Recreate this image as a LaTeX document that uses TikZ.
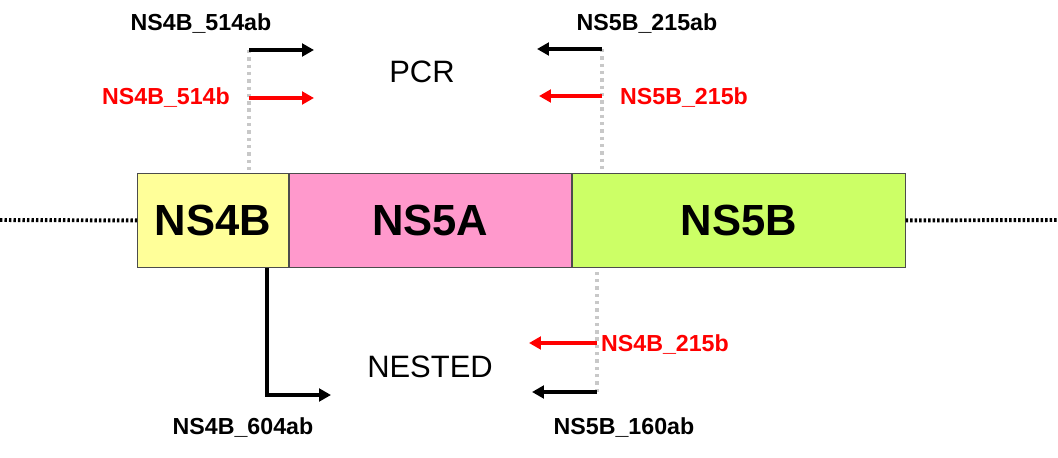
\documentclass[tikz,border=0pt]{standalone}
\usepackage{fontspec}
\setmainfont{Liberation Sans}
\usepackage{xcolor}
\definecolor{regionYellow}{HTML}{FFFF99}
\definecolor{regionPink}{HTML}{FF99CC}
\definecolor{regionGreen}{HTML}{CCFF66}
\definecolor{primerRed}{HTML}{FF0000}
\definecolor{guideGray}{HTML}{C8C8C8}
\usetikzlibrary{arrows.meta, positioning, calc}
\tikzset{
    % Genome regions in the bar
    region/.style={
        rectangle,
        draw=black!70,
        line width=0.6pt,
        minimum height=2.35cm,
        inner sep=0pt,
        font=\bfseries\fontsize{31}{31}\selectfont,
    },
    % Primer names
    primer label/.style={
        font=\bfseries\fontsize{16.5}{16.5}\selectfont,
        inner sep=1pt,
    },
    % Step titles
    step title/.style={
        font=\fontsize{22}{22}\selectfont,
        inner sep=1pt,
    },
    % Primer arrows
    primer/.style={
        -{Triangle[length=8.5pt, width=9pt]},
        line width=2.6pt,
    },
    % Light dotted guide lines
    guide/.style={
        draw=guideGray,
        line width=2.6pt,
        dash pattern=on 2.4pt off 2.8pt,
    },
    % Dotted genome continuation
    genome/.style={
        line width=2.8pt,
        dash pattern=on 1.7pt off 1.5pt,
    },
}

\begin{document}
\begin{tikzpicture}[x=0.025cm, y=-0.025cm]
    \useasboundingbox (0,0) rectangle (1058,458);

    % genome bar
    \node (ns4b) [region, fill=regionYellow, minimum width=3.775cm, anchor=north west] at (137,173) {NS4B};
    \node (ns5a) [region, fill=regionPink, minimum width=7.05cm, right=0pt of ns4b] {NS5A};
    \node (ns5b) [region, fill=regionGreen, minimum width=8.325cm, right=0pt of ns5a] {NS5B};

    \coordinate (genomeL) at (0,220);
    \coordinate (genomeR) at (1058,220);
    \draw [genome] (genomeL) -- (ns4b.west);
    \draw [genome] (ns5b.east) -- (genomeR);

    % PCR primers
    \coordinate (f514ab) at (249,50);
    \coordinate (f514abEnd) at (314,50);
    \coordinate (f514b) at (249,98);
    \coordinate (f514bEnd) at (314,98);
    \coordinate (r215ab) at (602,49);
    \coordinate (r215abEnd) at (537,49);
    \coordinate (r215b) at (602,96);
    \coordinate (r215bEnd) at (539,96);

    \draw [guide] (f514ab) -- (f514ab |- ns4b.north);
    \draw [guide] (r215ab) -- (r215ab |- ns5b.north);

    \draw [primer] (f514ab) -- (f514abEnd);
    \draw [primer, primerRed] (f514b) -- (f514bEnd);
    \draw [primer] (r215ab) -- (r215abEnd);
    \draw [primer, primerRed] (r215b) -- (r215bEnd);

    \node (l514ab) [primer label] at (201,24) {NS4B\_514ab};
    \node (l514b) [primer label, text=primerRed] at (166,98) {NS4B\_514b};
    \node (l215ab) [primer label] at (647,24) {NS5B\_215ab};
    \node (l215b) [primer label, text=primerRed] at (684,98) {NS5B\_215b};
    \node (pcr) [step title] at (422,72) {PCR};

    % nested primers
    \coordinate (f604bend) at (267,395);
    \coordinate (f604End) at (331,395);
    \coordinate (r215nb) at (597,343);
    \coordinate (r215nbEnd) at (529,343);
    \coordinate (r160ab) at (597,392);
    \coordinate (r160abEnd) at (532,392);

    \draw [guide] (r160ab) -- (r160ab |- ns5b.south);

    \draw [primer] (f604bend |- ns4b.south) -- (f604bend) -- (f604End);
    \draw [primer, primerRed] (r215nb) -- (r215nbEnd);
    \draw [primer] (r160ab) -- (r160abEnd);

    \node (l604ab) [primer label] at (243,428) {NS4B\_604ab};
    \node (l215nb) [primer label, text=primerRed] at (665,345) {NS4B\_215b};
    \node (l160ab) [primer label] at (624,428) {NS5B\_160ab};
    \node (nested) [step title] at (430,367) {NESTED};
\end{tikzpicture}
\end{document}
